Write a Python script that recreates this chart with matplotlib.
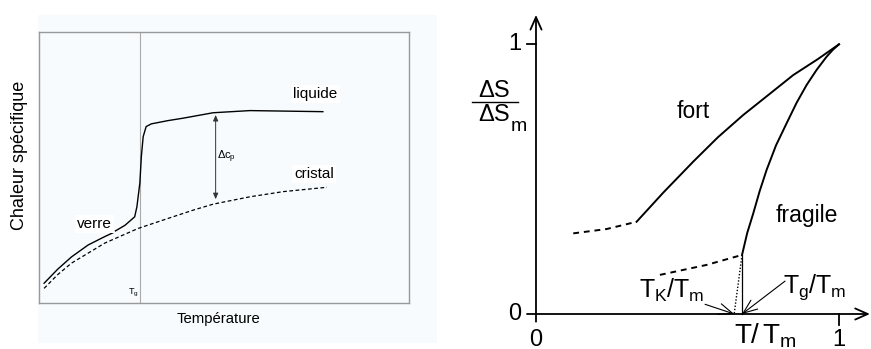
import matplotlib
matplotlib.use("Agg")
import matplotlib.pyplot as plt
from matplotlib.patches import Rectangle

plt.rcParams['font.family'] = ['Liberation Sans', 'DejaVu Sans']
plt.rcParams['mathtext.fontset'] = 'custom'
plt.rcParams['mathtext.rm'] = 'Liberation Sans'
plt.rcParams['mathtext.it'] = 'Liberation Sans'
plt.rcParams['mathtext.bf'] = 'Liberation Sans:bold'

# --- left panel: chaleur specifique (arbitrary units, 0..1) ---
verre_x = [0.013, 0.050, 0.087, 0.132, 0.177, 0.199]
verre_y = [0.073, 0.125, 0.170, 0.214, 0.245, 0.259]
liquide_x = [0.206, 0.232, 0.258, 0.264, 0.272, 0.276, 0.281, 0.289, 0.303,
             0.348, 0.389, 0.470, 0.570, 0.767]
liquide_y = [0.266, 0.287, 0.318, 0.355, 0.443, 0.540, 0.614, 0.651, 0.661,
             0.673, 0.682, 0.702, 0.710, 0.706]
cristal_x = [0.013, 0.050, 0.087, 0.177, 0.267, 0.348, 0.417, 0.471, 0.570, 0.660, 0.778]
cristal_y = [0.054, 0.105, 0.147, 0.221, 0.275, 0.312, 0.343, 0.365, 0.392, 0.411, 0.427]
tg_left = 0.272
dcp_x = 0.477
dcp_y = (0.383, 0.694)

# --- right panel: entropie reduite ---
fort_x = [0.332, 0.420, 0.519, 0.600, 0.684, 0.770, 0.849, 0.930, 1.0]
fort_y = [0.342, 0.450, 0.565, 0.655, 0.738, 0.815, 0.886, 0.945, 1.0]
fort_ext_x = [0.123, 0.233, 0.332]
fort_ext_y = [0.299, 0.315, 0.342]
fragile_x = [0.680, 0.697, 0.717, 0.738, 0.761, 0.792, 0.827, 0.860, 0.893,
             0.926, 0.959, 0.980, 1.0]
fragile_y = [0.219, 0.300, 0.373, 0.455, 0.534, 0.625, 0.707, 0.783, 0.849,
             0.905, 0.954, 0.980, 1.0]
fragile_ext_x = [0.409, 0.563, 0.680]
fragile_ext_y = [0.145, 0.182, 0.219]
tg_ratio = 0.680
tk_ratio = 0.654

fig = plt.figure(figsize=(8.71, 3.49), dpi=100)
fig.patch.set_facecolor('white')
fig.patches.append(Rectangle((38 / 871, 1 - 343 / 349), 399 / 871, 328 / 349,
                             transform=fig.transFigure, facecolor='#f7fbfd',
                             edgecolor='none', zorder=-10))

ax = fig.add_axes([39.3 / 871, 1 - 303 / 349, 369.7 / 871, 271 / 349])
ax.set_facecolor('#f7fbfd')
ax.set_xlim(0, 1)
ax.set_ylim(0, 1)
ax.set_xticks([])
ax.set_yticks([])
for s in ax.spines.values():
    s.set_color('#999999')
    s.set_linewidth(1)

ax.axvline(tg_left, color='#aaaaaa', lw=0.8)
ax.plot(verre_x, verre_y, color='black', lw=1)
ax.plot(liquide_x, liquide_y, color='black', lw=1)
ax.plot(cristal_x, cristal_y, color='black', lw=0.9, dashes=(3, 2))
ax.annotate('', xy=(dcp_x, dcp_y[1]), xytext=(dcp_x, dcp_y[0]),
            arrowprops=dict(arrowstyle='<|-|>,head_length=0.35,head_width=0.15',
                            color='#333333', lw=0.7, shrinkA=0, shrinkB=0))
ax.text(0.505, 0.540, '$Δc_p$', fontsize=8, ha='center', va='center')
ax.text(0.747, 0.771, 'liquide', fontsize=11, ha='center', va='center',
        bbox=dict(facecolor='white', edgecolor='none', pad=1.5))
ax.text(0.743, 0.476, 'cristal', fontsize=11, ha='center', va='center',
        bbox=dict(facecolor='white', edgecolor='none', pad=1.5))
ax.text(0.150, 0.2915, 'verre', fontsize=11, ha='center', va='center',
        bbox=dict(facecolor='white', edgecolor='none', pad=1.5))
ax.text(0.253, 0.038, '$T_g$', fontsize=6.5, ha='center', va='center')

fig.text(218 / 871, 1 - 319 / 349, 'Température', fontsize=10.7,
         ha='center', va='center')
fig.text(20 / 871, 1 - 155 / 349, 'Chaleur spécifique', fontsize=13,
         ha='center', va='center', rotation=90)

# right panel in ratio units
ax2 = fig.add_axes([440 / 871, 0, 431 / 871, 1])
ax2.set_xlim(-0.3168, 1.1056)
ax2.set_ylim(-0.1298, 1.1643)
ax2.axis('off')

head = '->,head_length=0.9,head_width=0.4'
ax2.annotate('', xy=(0, 1.109), xytext=(0, -0.0285),
             arrowprops=dict(arrowstyle=head, color='black', lw=1.3,
                             shrinkA=0, shrinkB=0))
ax2.annotate('', xy=(1.102, 0), xytext=(-0.0297, 0),
             arrowprops=dict(arrowstyle=head, color='black', lw=1.3,
                             shrinkA=0, shrinkB=0))
ax2.plot([-0.0297, 0], [1, 1], color='black', lw=1.3)
ax2.plot([1, 1], [0, -0.041], color='black', lw=1.3)

ax2.plot(fort_x, fort_y, color='black', lw=1.4)
ax2.plot(fort_ext_x, fort_ext_y, color='black', lw=1.4, dashes=(3, 2.5))
ax2.plot(fragile_x, fragile_y, color='black', lw=1.4)
ax2.plot(fragile_ext_x, fragile_ext_y, color='black', lw=1.4, dashes=(3, 2.5))
ax2.plot([tg_ratio, tg_ratio], [fragile_ext_y[-1], 0], color='black', lw=0.9)
ax2.plot([tg_ratio, tk_ratio], [fragile_ext_y[-1], 0], color='black', lw=1,
         linestyle=(0, (1, 1.3)))

arr = dict(arrowstyle='->,head_length=1.0,head_width=0.4', color='black',
           lw=0.8, shrinkA=0, shrinkB=0)
ax2.annotate('', xy=(tk_ratio, 0), xytext=(0.558, 0.036), arrowprops=arr)
ax2.annotate('', xy=(tg_ratio, 0), xytext=(0.822, 0.122), arrowprops=arr)
ax2.text(0.449, 0.059, '$T_K/T_m$', fontsize=18, ha='center', va='baseline')
ax2.text(0.921, 0.078, '$T_g/T_m$', fontsize=18, ha='center', va='baseline')

ax2.text(0.518, 0.750, 'fort', fontsize=16.5, ha='center', va='center')
ax2.text(0.893, 0.367, 'fragile', fontsize=16.5, ha='center', va='center')

ax2.text(-0.069, 1, '1', fontsize=17, ha='center', va='center')
ax2.text(-0.069, 0, '0', fontsize=17, ha='center', va='center')
ax2.text(0, -0.056, '0', fontsize=17, ha='center', va='top')
ax2.text(1, -0.056, '1', fontsize=17, ha='center', va='top')
ax2.text(0.755, -0.026, '$T/\\,T_m$', fontsize=20, ha='center', va='top')

# ΔS / ΔSm fraction label
fx = (494 - 536) / 303
ax2.text(fx, (314 - 97) / 269.7, 'ΔS', fontsize=17, ha='center', va='baseline')
ax2.plot([(471.7 - 536) / 303, (518.3 - 536) / 303],
         [(314 - 101.7) / 269.7] * 2, color='black', lw=1)
ax2.text(fx, (314 - 121) / 269.7, 'ΔS', fontsize=17, ha='center', va='baseline')
ax2.text((511 - 536) / 303, (314 - 131) / 269.7, 'm', fontsize=14,
         ha='left', va='baseline')

fig.savefig('out.png', dpi=100)
